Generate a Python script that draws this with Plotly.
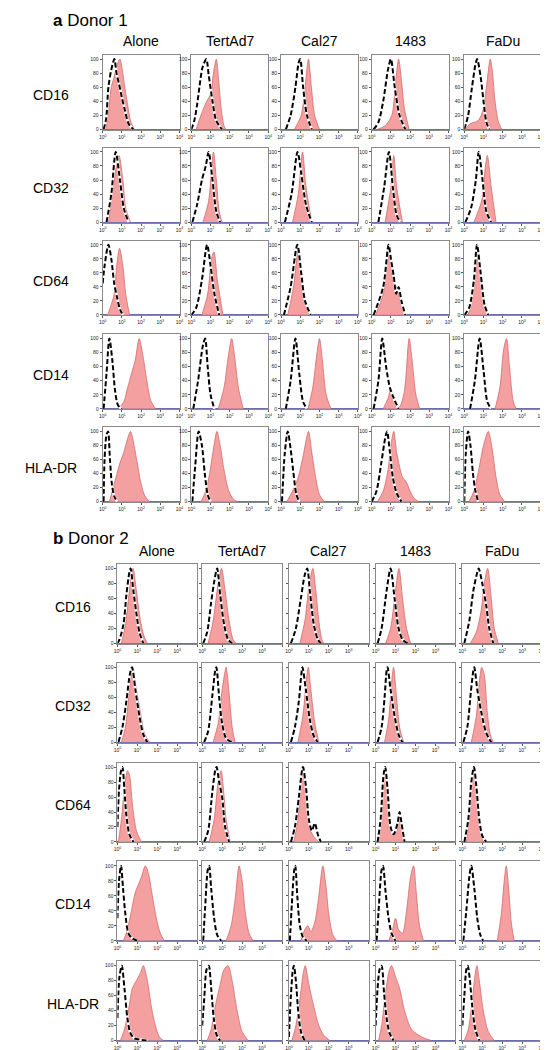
import plotly.graph_objects as go

W, H = 548, 1050
CELLS = ["Alone", "TertAd7", "Cal27", "1483", "FaDu"]
MARKERS = ["CD16", "CD32", "CD64", "CD14", "HLA-DR"]
DONORS = ["Donor 1", "Donor 2"]
PANEL_LETTERS = ["a", "b"]
X_TICK_VALUES = [1, 10, 100, 1000, 10000]
X_TICK_TEXT = ["10<sup>0</sup>", "10<sup>1</sup>", "10<sup>2</sup>", "10<sup>3</sup>", "10<sup>4</sup>"]
Y_TICK_VALUES = [0, 20, 40, 60, 80, 100]

# Histogram outlines: (log10 fluorescence, % of max)
# one list per cell line, in CELLS order.  ISO = isotype control (dashed), STAIN = antibody (filled)
D1_CD16_ISO = [
    [(0.05, 0), (0.18, 15), (0.3, 60), (0.45, 85), (0.61, 100), (0.72, 80), (0.85, 65), (1.0, 45), (1.15, 28), (1.35, 8), (1.6, 0)],
    [(0.0, 0), (0.15, 12), (0.3, 35), (0.42, 60), (0.58, 88), (0.78, 100), (0.9, 78), (1.1, 40), (1.3, 12), (1.6, 0)],
    [(0.25, 0), (0.5, 20), (0.75, 60), (0.92, 95), (1.0, 100), (1.15, 60), (1.35, 20), (1.6, 0)],
    [(0.1, 0), (0.35, 10), (0.6, 40), (0.85, 85), (1.0, 100), (1.2, 60), (1.45, 20), (1.75, 0)],
    [(0.0, 0), (0.2, 20), (0.4, 60), (0.6, 95), (0.67, 100), (0.85, 75), (1.0, 40), (1.15, 10), (1.3, 0)],
]
D1_CD16_STAIN = [
    [(0.15, 0), (0.3, 25), (0.45, 60), (0.6, 75), (0.75, 92), (0.9, 100), (1.02, 85), (1.15, 60), (1.3, 35), (1.45, 12), (1.65, 0)],
    [(0.25, 0), (0.5, 20), (0.8, 40), (1.0, 50), (1.15, 80), (1.3, 100), (1.42, 70), (1.55, 30), (1.7, 5), (1.8, 0)],
    [(0.7, 0), (1.05, 20), (1.25, 60), (1.43, 100), (1.58, 60), (1.75, 20), (2.0, 0)],
    [(0.3, 0), (0.7, 5), (1.05, 20), (1.22, 60), (1.4, 100), (1.55, 70), (1.7, 30), (1.95, 0)],
    [(0.05, 0), (0.3, 8), (0.7, 12), (0.95, 25), (1.15, 60), (1.35, 100), (1.45, 85), (1.6, 40), (1.78, 10), (1.95, 0)],
]
D1_CD32_ISO = [
    [(0.2, 0), (0.45, 40), (0.68, 100), (0.9, 60), (1.1, 20), (1.35, 0)],
    [(0.05, 0), (0.3, 25), (0.55, 60), (0.75, 80), (0.9, 100), (1.1, 60), (1.3, 15), (1.5, 0)],
    [(0.2, 0), (0.55, 40), (0.86, 100), (1.05, 70), (1.3, 25), (1.6, 0)],
    [(0.35, 0), (0.65, 50), (0.9, 100), (1.1, 50), (1.3, 10), (1.5, 0)],
    [(0.05, 0), (0.35, 20), (0.6, 60), (0.75, 100), (0.95, 60), (1.15, 15), (1.4, 0)],
]
D1_CD32_STAIN = [
    [(0.3, 0), (0.55, 50), (0.85, 95), (1.05, 60), (1.2, 20), (1.45, 0)],
    [(0.6, 0), (0.9, 30), (1.15, 100), (1.3, 60), (1.45, 15), (1.6, 0)],
    [(0.6, 0), (0.9, 40), (1.12, 100), (1.3, 50), (1.6, 0)],
    [(0.7, 0), (1.0, 50), (1.15, 95), (1.3, 50), (1.6, 0)],
    [(0.5, 0), (0.9, 30), (1.1, 80), (1.2, 95), (1.4, 50), (1.65, 0)],
]
D1_CD64_ISO = [
    [(0.0, 45), (0.1, 70), (0.3, 100), (0.45, 80), (0.6, 45), (0.75, 25), (0.9, 8), (1.05, 0)],
    [(0.0, 0), (0.25, 10), (0.55, 50), (0.82, 100), (1.0, 70), (1.2, 30), (1.45, 0)],
    [(0.15, 0), (0.5, 40), (0.85, 100), (1.05, 60), (1.25, 20), (1.55, 0)],
    [(0.1, 0), (0.6, 40), (0.88, 100), (1.0, 80), (1.15, 55), (1.28, 30), (1.4, 40), (1.55, 20), (1.75, 0)],
    [(0.0, 0), (0.25, 10), (0.5, 50), (0.66, 100), (0.85, 60), (1.05, 15), (1.25, 0)],
]
D1_CD64_STAIN = [
    [(0.25, 0), (0.45, 15), (0.6, 30), (0.75, 75), (0.88, 95), (1.05, 70), (1.2, 30), (1.4, 0)],
    [(0.55, 0), (0.85, 30), (1.05, 80), (1.18, 90), (1.35, 50), (1.65, 0)],
    [(0.35, 0), (0.65, 40), (0.9, 95), (1.05, 50), (1.25, 15), (1.5, 0)],
    [(0.2, 0), (0.6, 30), (0.88, 90), (1.0, 75), (1.15, 45), (1.3, 40), (1.45, 25), (1.7, 0)],
    [(0.2, 0), (0.55, 50), (0.72, 95), (0.9, 50), (1.1, 10), (1.3, 0)],
]
D1_CD14_ISO = [
    [(0.05, 0), (0.2, 50), (0.35, 100), (0.5, 70), (0.65, 25), (0.8, 5), (1.0, 0)],
    [(0.1, 0), (0.35, 40), (0.6, 90), (0.72, 100), (0.85, 60), (1.0, 20), (1.2, 0)],
    [(0.25, 0), (0.5, 40), (0.75, 100), (0.95, 50), (1.15, 10), (1.35, 0)],
    [(0.1, 0), (0.35, 40), (0.55, 100), (0.75, 60), (0.95, 30), (1.15, 15), (1.4, 0)],
    [(0.3, 0), (0.55, 40), (0.8, 100), (1.0, 55), (1.2, 10), (1.4, 0)],
]
D1_CD14_STAIN = [
    [(0.8, 0), (1.1, 10), (1.3, 30), (1.5, 50), (1.7, 70), (1.9, 100), (2.1, 75), (2.3, 40), (2.5, 12), (2.75, 0)],
    [(1.4, 0), (1.7, 30), (1.9, 70), (2.1, 100), (2.25, 75), (2.45, 30), (2.7, 0)],
    [(1.4, 0), (1.65, 30), (1.85, 75), (2.0, 100), (2.15, 70), (2.35, 20), (2.6, 0)],
    [(0.6, 0), (0.85, 15), (1.0, 28), (1.2, 10), (1.45, 3), (1.7, 25), (1.95, 100), (2.1, 70), (2.3, 20), (2.5, 0)],
    [(1.6, 0), (1.85, 30), (2.05, 85), (2.2, 100), (2.35, 60), (2.55, 10), (2.7, 0)],
]
D1_HLADR_ISO = [
    [(0.05, 0), (0.1, 60), (0.2, 95), (0.28, 100), (0.38, 60), (0.48, 25), (0.6, 8), (0.75, 0)],
    [(0.05, 0), (0.2, 50), (0.38, 100), (0.55, 80), (0.7, 40), (0.85, 10), (1.0, 0)],
    [(0.05, 0), (0.2, 70), (0.35, 100), (0.5, 75), (0.65, 40), (0.8, 10), (0.95, 0)],
    [(0.0, 0), (0.25, 15), (0.5, 55), (0.7, 90), (0.8, 100), (0.95, 70), (1.1, 35), (1.3, 12), (1.55, 0)],
    [(0.0, 0), (0.08, 70), (0.2, 100), (0.32, 80), (0.45, 40), (0.58, 15), (0.72, 0)],
]
D1_HLADR_STAIN = [
    [(0.35, 0), (0.5, 15), (0.7, 35), (0.9, 55), (1.1, 70), (1.3, 90), (1.45, 100), (1.6, 85), (1.8, 55), (2.0, 25), (2.2, 8), (2.45, 0)],
    [(0.5, 0), (0.75, 15), (0.95, 40), (1.15, 75), (1.33, 100), (1.5, 80), (1.7, 45), (1.95, 15), (2.2, 3), (2.4, 0)],
    [(0.3, 0), (0.6, 15), (0.9, 35), (1.15, 65), (1.43, 100), (1.6, 70), (1.8, 35), (2.0, 10), (2.25, 0)],
    [(0.3, 0), (0.6, 15), (0.85, 45), (1.0, 80), (1.15, 100), (1.3, 70), (1.45, 50), (1.6, 35), (1.8, 28), (2.0, 15), (2.2, 5), (2.45, 0)],
    [(0.25, 0), (0.5, 15), (0.75, 45), (1.0, 80), (1.25, 100), (1.45, 75), (1.65, 35), (1.85, 10), (2.1, 0)],
]
D2_CD16_ISO = [
    [(0.0, 0), (0.1, 5), (0.3, 25), (0.45, 65), (0.6, 95), (0.66, 100), (0.8, 70), (0.95, 40), (1.1, 15), (1.3, 0)],
    [(0.05, 0), (0.25, 15), (0.45, 55), (0.6, 82), (0.75, 100), (0.9, 65), (1.1, 25), (1.3, 5), (1.5, 0)],
    [(0.1, 0), (0.35, 20), (0.6, 60), (0.8, 92), (0.92, 100), (1.05, 70), (1.25, 25), (1.45, 5), (1.6, 0)],
    [(0.1, 0), (0.3, 20), (0.55, 70), (0.75, 100), (0.95, 60), (1.15, 20), (1.35, 5), (1.6, 0)],
    [(0.1, 0), (0.35, 30), (0.55, 70), (0.75, 95), (0.82, 100), (1.0, 80), (1.2, 50), (1.35, 20), (1.55, 0)],
]
D2_CD16_STAIN = [
    [(0.2, 0), (0.4, 25), (0.6, 70), (0.78, 100), (0.95, 70), (1.15, 30), (1.35, 8), (1.5, 0)],
    [(0.3, 0), (0.55, 30), (0.8, 80), (0.97, 100), (1.15, 70), (1.35, 30), (1.55, 5), (1.7, 0)],
    [(0.55, 0), (0.8, 30), (1.0, 75), (1.2, 100), (1.35, 70), (1.5, 30), (1.65, 5), (1.75, 0)],
    [(0.5, 0), (0.75, 20), (0.95, 60), (1.17, 100), (1.35, 60), (1.55, 20), (1.75, 0)],
    [(0.4, 0), (0.7, 15), (0.95, 45), (1.1, 80), (1.27, 100), (1.45, 60), (1.6, 20), (1.8, 0)],
]
D2_CD32_ISO = [
    [(0.05, 0), (0.25, 20), (0.45, 55), (0.62, 90), (0.73, 100), (0.9, 70), (1.1, 35), (1.3, 10), (1.5, 0)],
    [(0.1, 0), (0.3, 15), (0.5, 60), (0.65, 95), (0.71, 100), (0.85, 60), (1.0, 25), (1.2, 5), (1.5, 0)],
    [(0.1, 0), (0.3, 20), (0.5, 55), (0.62, 90), (0.68, 100), (0.85, 70), (1.05, 30), (1.25, 8), (1.45, 0)],
    [(0.1, 0), (0.3, 20), (0.45, 60), (0.55, 95), (0.6, 100), (0.75, 70), (0.95, 35), (1.15, 10), (1.35, 0)],
    [(0.05, 0), (0.25, 20), (0.42, 65), (0.55, 95), (0.6, 100), (0.75, 70), (0.95, 40), (1.2, 12), (1.45, 0)],
]
D2_CD32_STAIN = [
    [(0.2, 0), (0.4, 20), (0.6, 70), (0.76, 100), (0.95, 70), (1.15, 40), (1.35, 12), (1.6, 0)],
    [(0.55, 0), (0.8, 25), (1.0, 70), (1.15, 95), (1.2, 100), (1.35, 65), (1.5, 20), (1.65, 0)],
    [(0.45, 0), (0.7, 35), (0.88, 85), (0.97, 100), (1.1, 70), (1.3, 25), (1.5, 0)],
    [(0.45, 0), (0.65, 30), (0.82, 85), (0.9, 100), (1.05, 60), (1.2, 20), (1.4, 0)],
    [(0.45, 0), (0.7, 35), (0.85, 80), (0.97, 100), (1.1, 90), (1.25, 40), (1.4, 10), (1.55, 0)],
]
D2_CD64_ISO = [
    [(0.0, 20), (0.08, 70), (0.18, 95), (0.25, 100), (0.35, 70), (0.45, 35), (0.6, 10), (0.8, 0)],
    [(0.1, 0), (0.3, 15), (0.5, 65), (0.65, 95), (0.72, 100), (0.85, 80), (1.0, 60), (1.15, 20), (1.35, 0)],
    [(0.1, 0), (0.3, 20), (0.5, 60), (0.7, 100), (0.85, 75), (1.0, 30), (1.15, 15), (1.3, 25), (1.45, 10), (1.6, 0)],
    [(0.1, 0), (0.25, 30), (0.4, 90), (0.48, 100), (0.6, 70), (0.75, 20), (0.9, 10), (1.1, 25), (1.2, 40), (1.3, 25), (1.45, 0)],
    [(0.1, 0), (0.3, 30), (0.45, 80), (0.58, 100), (0.7, 75), (0.85, 30), (1.0, 8), (1.2, 0)],
]
D2_CD64_STAIN = [
    [(0.05, 0), (0.2, 30), (0.35, 70), (0.5, 95), (0.6, 90), (0.75, 50), (0.95, 15), (1.2, 0)],
    [(0.35, 0), (0.6, 30), (0.8, 80), (0.95, 95), (1.05, 75), (1.2, 30), (1.4, 0)],
    [(0.25, 0), (0.45, 30), (0.65, 90), (0.75, 100), (0.9, 55), (1.1, 15), (1.3, 5), (1.5, 0)],
    [(0.15, 0), (0.3, 40), (0.45, 95), (0.55, 85), (0.7, 40), (0.85, 10), (1.05, 15), (1.2, 30), (1.35, 12), (1.5, 0)],
    [(0.2, 0), (0.35, 35), (0.5, 85), (0.6, 100), (0.72, 70), (0.88, 25), (1.05, 0)],
]
D2_CD14_ISO = [
    [(0.0, 30), (0.08, 80), (0.18, 100), (0.28, 70), (0.4, 35), (0.55, 10), (0.75, 3), (1.0, 0)],
    [(0.05, 0), (0.15, 45), (0.28, 95), (0.35, 100), (0.45, 70), (0.6, 30), (0.75, 8), (0.95, 0)],
    [(0.05, 0), (0.15, 50), (0.27, 95), (0.32, 100), (0.42, 60), (0.55, 20), (0.7, 5), (0.9, 0)],
    [(0.05, 0), (0.15, 40), (0.3, 95), (0.37, 100), (0.5, 65), (0.65, 30), (0.8, 10), (1.0, 0)],
    [(0.05, 0), (0.2, 40), (0.35, 85), (0.45, 100), (0.6, 70), (0.75, 30), (0.9, 8), (1.05, 0)],
]
D2_CD14_STAIN = [
    [(0.3, 0), (0.5, 15), (0.7, 40), (0.9, 65), (1.05, 75), (1.2, 85), (1.4, 100), (1.55, 90), (1.75, 60), (1.95, 30), (2.15, 10), (2.35, 0)],
    [(1.2, 0), (1.45, 20), (1.65, 55), (1.85, 100), (2.0, 80), (2.15, 40), (2.35, 10), (2.55, 0)],
    [(0.6, 0), (0.8, 15), (0.95, 20), (1.1, 12), (1.3, 25), (1.5, 60), (1.7, 100), (1.85, 75), (2.0, 35), (2.2, 8), (2.4, 0)],
    [(0.65, 0), (0.85, 15), (1.0, 30), (1.15, 15), (1.35, 10), (1.55, 40), (1.75, 85), (1.9, 100), (2.05, 60), (2.2, 20), (2.4, 0)],
    [(1.75, 0), (1.95, 35), (2.1, 80), (2.2, 100), (2.32, 70), (2.45, 25), (2.6, 0)],
]
D2_HLADR_ISO = [
    [(0.0, 30), (0.1, 85), (0.22, 100), (0.35, 70), (0.5, 30), (0.65, 10), (0.85, 3), (1.2, 1), (1.5, 0)],
    [(0.0, 20), (0.1, 55), (0.22, 95), (0.33, 100), (0.45, 70), (0.58, 30), (0.72, 8), (0.9, 0)],
    [(0.0, 5), (0.1, 60), (0.2, 95), (0.25, 100), (0.35, 80), (0.48, 35), (0.62, 10), (0.8, 0)],
    [(0.0, 20), (0.1, 70), (0.2, 95), (0.3, 100), (0.42, 65), (0.55, 30), (0.7, 10), (0.9, 0)],
    [(0.0, 20), (0.1, 60), (0.2, 95), (0.27, 100), (0.38, 80), (0.5, 45), (0.65, 15), (0.85, 0)],
]
D2_HLADR_STAIN = [
    [(0.15, 0), (0.35, 15), (0.55, 40), (0.75, 70), (0.95, 80), (1.15, 90), (1.3, 100), (1.5, 80), (1.7, 45), (1.9, 20), (2.1, 5), (2.3, 0)],
    [(0.25, 0), (0.45, 15), (0.65, 45), (0.9, 75), (1.1, 95), (1.3, 100), (1.5, 80), (1.75, 40), (2.0, 12), (2.3, 0)],
    [(0.15, 0), (0.35, 20), (0.55, 55), (0.72, 90), (0.82, 100), (1.0, 75), (1.25, 45), (1.5, 20), (1.75, 7), (2.05, 0)],
    [(0.15, 0), (0.3, 20), (0.5, 65), (0.7, 95), (0.8, 100), (1.0, 85), (1.2, 70), (1.45, 40), (1.8, 15), (2.3, 5), (2.8, 0)],
    [(0.1, 0), (0.3, 15), (0.5, 55), (0.65, 90), (0.73, 100), (0.85, 80), (1.05, 40), (1.3, 12), (1.6, 0)],
]

ISO = {
    "Donor 1": [D1_CD16_ISO, D1_CD32_ISO, D1_CD64_ISO, D1_CD14_ISO, D1_HLADR_ISO],
    "Donor 2": [D2_CD16_ISO, D2_CD32_ISO, D2_CD64_ISO, D2_CD14_ISO, D2_HLADR_ISO],
}
STAIN = {
    "Donor 1": [D1_CD16_STAIN, D1_CD32_STAIN, D1_CD64_STAIN, D1_CD14_STAIN, D1_HLADR_STAIN],
    "Donor 2": [D2_CD16_STAIN, D2_CD32_STAIN, D2_CD64_STAIN, D2_CD14_STAIN, D2_HLADR_STAIN],
}

# ---- layout geometry (pixels) ----
GEOM = {
    "Donor 1": dict(lefts=[92, 182, 273, 365, 459], width=78, tops=[47, 140, 233, 327, 420], height=75,
                    header_y=13, title_y=33, label_x=40, ylabels_all=True, x_top_label_all=True),
    "Donor 2": dict(lefts=[107, 193, 281, 369, 457], width=81, tops=[557, 656, 756, 855, 955], height=80,
                    header_y=532, title_y=544, label_x=62, ylabels_all=False, x_top_label_all=False),
}

FONT = "Liberation Sans, Arial, sans-serif"
FILL = "rgba(243,150,150,0.9)"
EDGE = "#d46a6a"


def px(x):
    return x / W


def py(y):
    return 1 - y / H


fig = go.Figure()
layout = {}
annotations = []
n = 0
for d_i, donor in enumerate(DONORS):
    g = GEOM[donor]
    annotations.append(dict(text="<b>%s</b> %s" % (PANEL_LETTERS[d_i], donor), x=px(40), y=py(g["header_y"]),
                            xref="paper", yref="paper", xanchor="left", yanchor="middle", showarrow=False,
                            font=dict(family=FONT, size=17, color="black")))
    for c_i, cell in enumerate(CELLS):
        cx = g["lefts"][c_i] + g["width"] / 2
        annotations.append(dict(text=cell, x=px(cx), y=py(g["title_y"]), xref="paper", yref="paper",
                                xanchor="center", yanchor="middle", showarrow=False,
                                font=dict(family=FONT, size=14, color="black")))
    for m_i, marker in enumerate(MARKERS):
        top = g["tops"][m_i]
        annotations.append(dict(text=marker, x=px(g["label_x"]), y=py(top + g["height"] / 2 + 3),
                                xref="paper", yref="paper", xanchor="center", yanchor="middle",
                                showarrow=False, font=dict(family=FONT, size=14, color="black")))
        for c_i, cell in enumerate(CELLS):
            n += 1
            xa = "x" if n == 1 else "x%d" % n
            ya = "y" if n == 1 else "y%d" % n
            left = g["lefts"][c_i]
            stain = STAIN[donor][m_i][c_i]
            iso = ISO[donor][m_i][c_i]
            fig.add_trace(go.Scatter(
                x=[10 ** p[0] for p in stain], y=[p[1] for p in stain], mode="lines",
                line=dict(color=EDGE, width=0.8, shape="spline", smoothing=0.8),
                fill="tozeroy", fillcolor=FILL, xaxis=xa, yaxis=ya, hoverinfo="skip", showlegend=False))
            fig.add_trace(go.Scatter(
                x=[10 ** p[0] for p in iso], y=[p[1] for p in iso], mode="lines",
                line=dict(color="white", width=2.6, shape="spline", smoothing=0.8),
                xaxis=xa, yaxis=ya, hoverinfo="skip", showlegend=False))
            fig.add_trace(go.Scatter(
                x=[10 ** p[0] for p in iso], y=[p[1] for p in iso], mode="lines",
                line=dict(color="black", width=2, dash="5px,2.5px", shape="spline", smoothing=0.8),
                xaxis=xa, yaxis=ya, hoverinfo="skip", showlegend=False))
            key = "" if n == 1 else str(n)
            xtext = list(X_TICK_TEXT)
            if not g["x_top_label_all"] and c_i < len(CELLS) - 1:
                xtext[-1] = ""
            show_y = g["ylabels_all"] or c_i == 0
            layout["xaxis" + key] = dict(
                domain=[px(left), px(left + g["width"])], anchor=ya, type="log", range=[0, 4],
                tickvals=X_TICK_VALUES, ticktext=xtext, ticks="outside", ticklen=2, tickwidth=0.6,
                tickcolor="#555", tickfont=dict(family=FONT, size=5, color="#222"),
                showline=True, mirror=True, linecolor="#8a8a8a", linewidth=1, showgrid=False, zeroline=False)
            layout["yaxis" + key] = dict(
                domain=[py(top + g["height"]), py(top)], anchor=xa, range=[-0.6, 106],
                tickvals=Y_TICK_VALUES, ticks="outside", ticklen=2, tickwidth=0.6, tickcolor="#555",
                showticklabels=show_y, tickfont=dict(family=FONT, size=5, color="#222"),
                showline=True, mirror=True, linecolor="#8a8a8a", linewidth=1, showgrid=False,
                zeroline=True, zerolinecolor="#6a6fb0", zerolinewidth=0.8)

fig.update_layout(width=W, height=H, margin=dict(l=0, r=0, t=0, b=0), plot_bgcolor="white",
                  paper_bgcolor="white", annotations=annotations, showlegend=False, **layout)
fig.write_html("out.html")
